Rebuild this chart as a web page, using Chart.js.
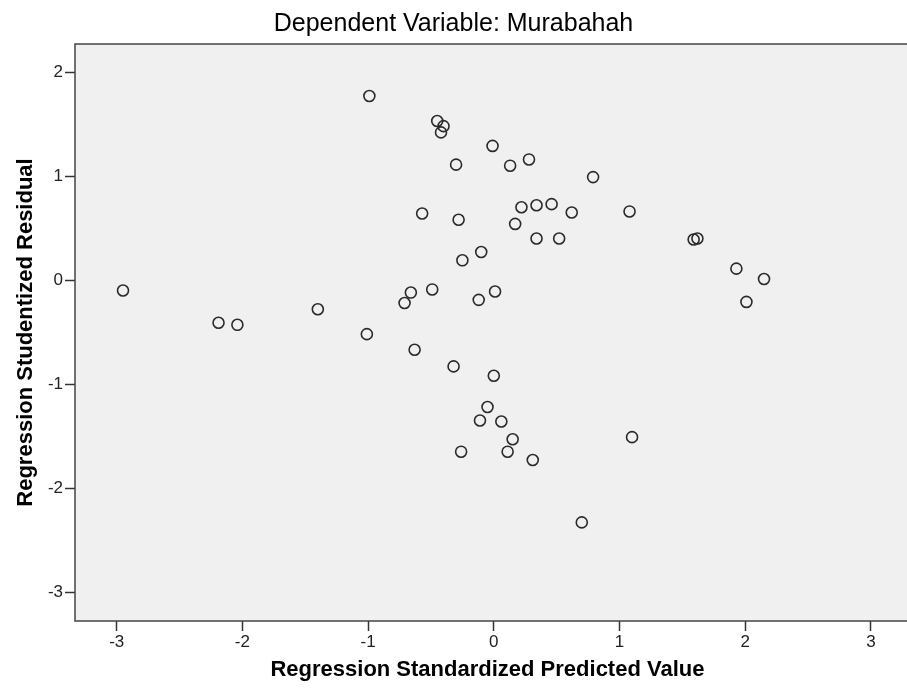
<!DOCTYPE html>
<html>
<head>
<meta charset="utf-8">
<script src="https://cdn.jsdelivr.net/npm/chart.js@4/dist/chart.umd.min.js"></script>
<style>
  html, body { margin: 0; padding: 0; background: #fff; overflow: hidden; }
  #wrap { width: 907px; height: 691px; }
</style>
</head>
<body>
<div id="wrap"><canvas id="resid" width="907" height="691"></canvas></div>
<script>
// standardized predicted value (x) and studentized residual (y)
const predicted = [
  -2.95, -2.19, -2.04, -1.40, -1.01, -0.99, -0.71, -0.66, -0.63, -0.57,
  -0.49, -0.45, -0.40, -0.42, -0.32, -0.30, -0.28, -0.26, -0.25, -0.12,
  -0.11, -0.10, -0.05, -0.01, 0.00, 0.01, 0.06, 0.11, 0.13, 0.15,
  0.17, 0.22, 0.28, 0.31, 0.34, 0.34, 0.46, 0.52, 0.62, 0.70,
  0.79, 1.08, 1.10, 1.59, 1.62, 1.93, 2.01, 2.15
]
const residual = [
  -0.10, -0.41, -0.43, -0.28, -0.52, 1.77, -0.22, -0.12, -0.67, 0.64,
  -0.09, 1.53, 1.48, 1.42, -0.83, 1.11, 0.58, -1.65, 0.19, -0.19,
  -1.35, 0.27, -1.22, 1.29, -0.92, -0.11, -1.36, -1.65, 1.10, -1.53,
  0.54, 0.70, 1.16, -1.73, 0.72, 0.40, 0.73, 0.40, 0.65, -2.33,
  0.99, 0.66, -1.51, 0.39, 0.40, 0.11, -0.21, 0.01
]
const xTicks = [-3, -2, -1, 0, 1, 2, 3]
const yTicks = [-3, -2, -1, 0, 1, 2]

const points = predicted.map((x, i) => ({ x, y: residual[i] }))

// grey plot panel; frame on left, top and bottom only, the panel runs off the right edge
const panel = {
  id: 'panel',
  beforeDatasetsDraw(chart) {
    const { ctx, chartArea: a } = chart
    const right = chart.width
    ctx.save()
    ctx.fillStyle = '#f0f0f0'
    ctx.fillRect(a.left, a.top, right - a.left, a.bottom - a.top)
    ctx.strokeStyle = '#444'
    ctx.lineWidth = 1.5
    ctx.beginPath()
    ctx.moveTo(right, a.top)
    ctx.lineTo(a.left, a.top)
    ctx.lineTo(a.left, a.bottom)
    ctx.lineTo(right, a.bottom)
    ctx.stroke()
    ctx.restore()
  },
}

const tickFont = { family: 'Liberation Sans, Arial, sans-serif', size: 17 }
const titleFont = { family: 'Liberation Sans, Arial, sans-serif', size: 22, weight: 'bold' }

new Chart(document.getElementById('resid'), {
  type: 'scatter',
  data: {
    datasets: [{
      data: points,
      pointStyle: 'circle',
      pointRadius: 5.5,
      pointHoverRadius: 5.5,
      borderColor: '#2a2a2a',
      borderWidth: 1.6,
      backgroundColor: 'rgba(0,0,0,0)',
    }],
  },
  options: {
    responsive: false,
    animation: false,
    layout: { padding: 0 },
    plugins: {
      legend: { display: false },
      tooltip: { enabled: false },
      title: {
        display: true,
        text: 'Dependent Variable: Murabahah',
        color: '#000',
        font: { family: 'Liberation Sans, Arial, sans-serif', size: 25, weight: 'normal' },
        padding: { top: 9, bottom: 5 },
      },
    },
    scales: {
      x: {
        type: 'linear',
        min: -3.332,
        max: 3.231,
        afterBuildTicks: s => { s.ticks = xTicks.map(v => ({ value: v })) },
        afterFit: s => { s.height = 70 },
        grid: { drawOnChartArea: false, tickLength: 10, tickColor: '#333', tickWidth: 1.5 },
        border: { display: false },
        ticks: { color: '#222', font: tickFont, padding: 1, maxRotation: 0 },
        title: {
          display: true,
          text: 'Regression Standardized Predicted Value',
          color: '#000',
          font: titleFont,
          padding: { top: 0, bottom: 8 },
        },
      },
      y: {
        type: 'linear',
        min: -3.278,
        max: 2.27,
        afterBuildTicks: s => { s.ticks = yTicks.map(v => ({ value: v })) },
        afterFit: s => { s.width = 75 },
        grid: { drawOnChartArea: false, tickLength: 10, tickColor: '#333', tickWidth: 1.5 },
        border: { display: false },
        ticks: { color: '#222', font: tickFont, padding: 2 },
        title: {
          display: true,
          text: 'Regression Studentized Residual',
          color: '#000',
          font: titleFont,
          padding: { top: 13, bottom: 0 },
        },
      },
    },
  },
  plugins: [panel],
})
</script>
</body>
</html>
